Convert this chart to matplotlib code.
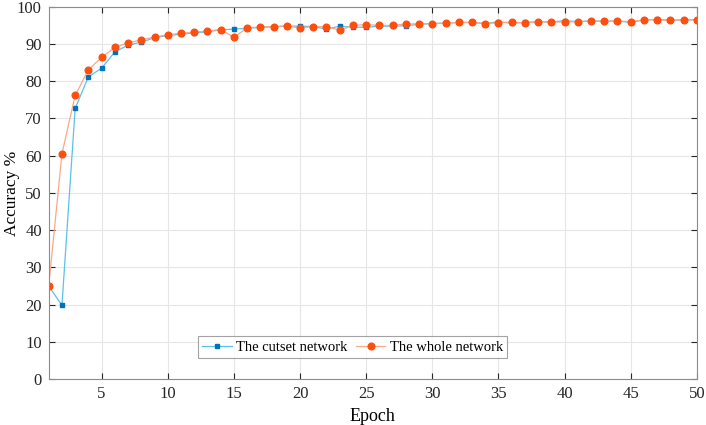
import numpy as np
import matplotlib.pyplot as plt

plt.rcParams['font.family'] = ['Liberation Serif', 'DejaVu Serif']

# Dane
epochs = np.arange(1, 51)
cutset = [25.0, 19.8, 72.7, 81.2, 83.5, 87.9, 89.7, 90.5, 91.7, 92.3,
          92.6, 93.0, 93.3, 93.8, 94.0, 94.2, 94.5, 94.6, 94.8, 94.8,
          94.7, 94.0, 94.8, 94.5, 94.5, 94.8, 94.8, 94.9, 95.3, 95.5,
          95.6, 95.8, 95.8, 95.5, 96.0, 95.6, 95.8, 96.0, 95.9, 96.3,
          96.0, 96.2, 96.1, 96.2, 95.8, 96.5, 96.6, 96.4, 96.5, 96.5]
whole = [25.0, 60.5, 76.2, 83.1, 86.4, 89.1, 90.3, 91.1, 91.9, 92.5,
         92.9, 93.2, 93.5, 93.9, 91.8, 94.3, 94.6, 94.7, 94.9, 94.3,
         94.7, 94.7, 93.7, 95.0, 95.2, 95.0, 95.0, 95.4, 95.4, 95.5,
         95.6, 95.8, 95.8, 95.5, 95.7, 95.9, 95.7, 96.0, 95.9, 95.9,
         96.0, 96.2, 96.1, 96.2, 96.0, 96.5, 96.5, 96.4, 96.5, 96.5]

fig, ax = plt.subplots(figsize=(7.06, 4.25), dpi=100)
fig.subplots_adjust(left=0.069, right=0.987, top=0.984, bottom=0.108)

ax.plot(epochs, cutset, color='#5BC2E7', lw=0.9, marker='s', ms=3.3,
        mfc='#0072BD', mec='#0072BD', label='The cutset network')
ax.plot(epochs, whole, color='#F9A88A', lw=0.9, marker='o', ms=4.8,
        mfc='#FF4F0F', mec='#FF4F0F', label='The whole network')

ax.set_xlim(1, 50)
ax.set_ylim(0, 100)
ax.set_xticks(np.arange(5, 51, 5))
ax.set_yticks(np.arange(0, 101, 10))
ax.tick_params(direction='in', labelsize=12, colors='#262626', length=4,
               top=True, right=True, pad=5)
for s in ax.spines.values():
    s.set_color('#8C8C8C')
ax.grid(True, color='#E6E6E6', lw=0.8)
ax.set_axisbelow(True)
ax.set_xlabel('Epoch', fontsize=13, labelpad=4)
ax.set_ylabel('Accuracy %', fontsize=12.5)
ax.yaxis.set_label_coords(-0.045, 0.5)

leg = ax.legend(loc='center', bbox_to_anchor=(0.469, 0.086), ncol=2,
                fontsize=10.5, frameon=True, fancybox=False, edgecolor='#8C8C8C',
                handlelength=2.0, handletextpad=0.3, columnspacing=0.6,
                borderpad=0.3, borderaxespad=0)
leg.get_frame().set_linewidth(0.8)

plt.savefig('out.png')
